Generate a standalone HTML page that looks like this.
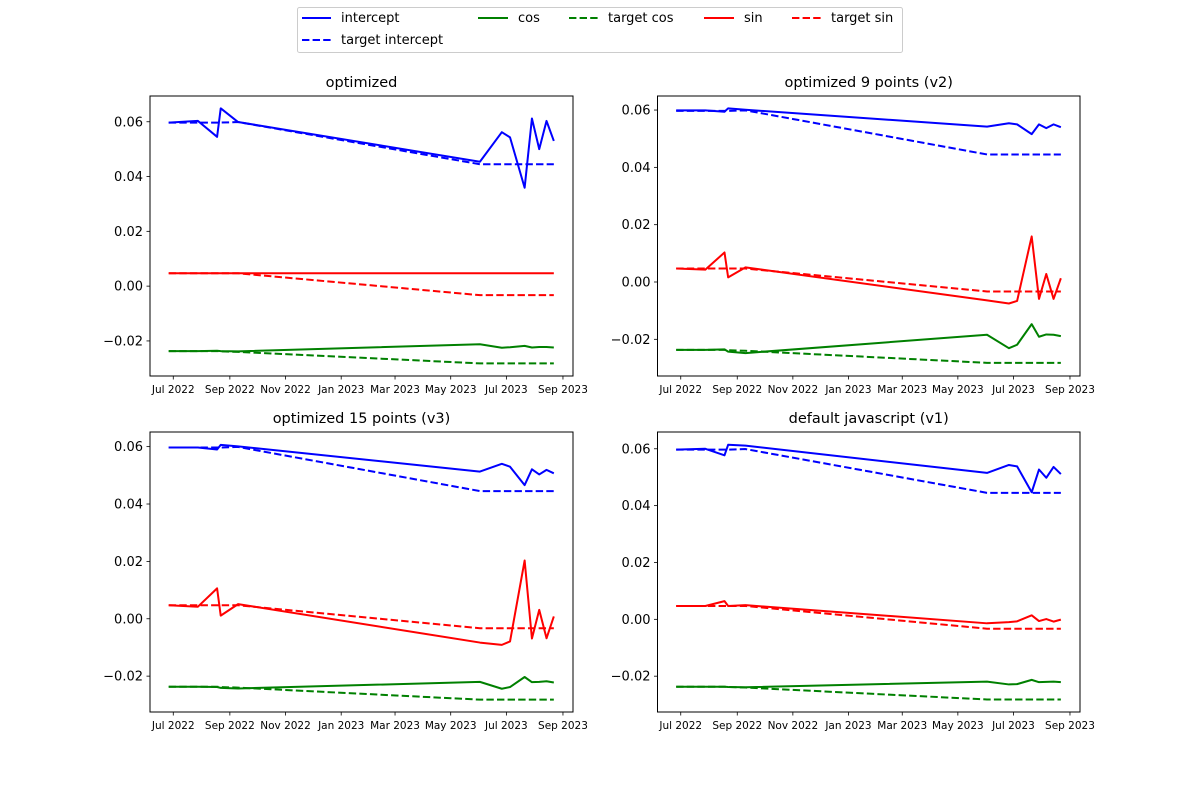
<!DOCTYPE html>
<html><head><meta charset="utf-8"><style>
body{margin:0;background:#fff;}
svg{display:block;font-family:"DejaVu Sans","Liberation Sans",sans-serif;}
</style></head><body>
<svg id="fig" width="1200" height="800" viewBox="0 0 1200 800">
<rect width="1200" height="800" fill="#fff"/>
<g>
<rect x="297.5" y="7.5" width="605" height="45" rx="2" fill="#fff" stroke="#ccc"/>
<line x1="302" y1="18" x2="331" y2="18" stroke="blue" stroke-width="2"/>
<text x="341" y="22" font-size="13">intercept</text>
<line x1="302" y1="40" x2="331" y2="40" stroke="blue" stroke-width="2" stroke-dasharray="7.4,3.2"/>
<text x="341" y="44" font-size="13">target intercept</text>
<line x1="478" y1="18" x2="508" y2="18" stroke="green" stroke-width="2"/>
<text x="518" y="22" font-size="13">cos</text>
<line x1="569" y1="18" x2="598" y2="18" stroke="green" stroke-width="2" stroke-dasharray="7.4,3.2"/>
<text x="608" y="22" font-size="13">target cos</text>
<line x1="704" y1="18" x2="734" y2="18" stroke="red" stroke-width="2"/>
<text x="744" y="22" font-size="13">sin</text>
<line x1="792" y1="18" x2="821" y2="18" stroke="red" stroke-width="2" stroke-dasharray="7.4,3.2"/>
<text x="831" y="22" font-size="13">target sin</text>
</g>
</svg>
<script>
const days = [-5, 27, 48, 52, 71, 336, 360, 369, 385, 393, 401, 409, 417];
const tickDays = [0, 62, 123, 184, 243, 304, 365, 427];
const tickLabels = ["Jul 2022","Sep 2022","Nov 2022","Jan 2023","Mar 2023","May 2023","Jul 2023","Sep 2023"];
const yTicks = [0.06, 0.04, 0.02, 0.00, -0.02];
const yTickLabels = ["0.06","0.04","0.02","0.00","\u22120.02"];
const titles = ["optimized","optimized 9 points (v2)","optimized 15 points (v3)","default javascript (v1)"];
const targetIntercept = [0.0597,0.0597,0.0597,0.0597,0.0599,0.0445,0.0445,0.0445,0.0445,0.0445,0.0445,0.0445,0.0445];
const targetSin = [0.0047,0.0047,0.0047,0.0047,0.0047,-0.0033,-0.0033,-0.0033,-0.0033,-0.0033,-0.0033,-0.0033,-0.0033];
const targetCos = [-0.0237,-0.0237,-0.0237,-0.0238,-0.0240,-0.0282,-0.0282,-0.0282,-0.0282,-0.0282,-0.0282,-0.0282,-0.0282];
const intercept1 = [0.0597,0.0603,0.0545,0.0649,0.0599,0.0454,0.0562,0.0543,0.0359,0.0612,0.0500,0.0603,0.0530];
const sin1 = [0.0047,0.0047,0.0047,0.0047,0.0047,0.0047,0.0047,0.0047,0.0047,0.0047,0.0047,0.0047,0.0047];
const cos1 = [-0.0237,-0.0237,-0.0236,-0.0237,-0.0238,-0.0212,-0.0225,-0.0223,-0.0218,-0.0224,-0.0222,-0.0222,-0.0224];
const intercept2 = [0.0599,0.0599,0.0594,0.0606,0.0601,0.0542,0.0554,0.0550,0.0516,0.0550,0.0537,0.0550,0.0540];
const sin2 = [0.0047,0.0043,0.0103,0.0016,0.0051,-0.0064,-0.0075,-0.0066,0.0159,-0.0059,0.0028,-0.0059,0.0013];
const cos2 = [-0.0237,-0.0237,-0.0235,-0.0243,-0.0248,-0.0184,-0.0231,-0.0219,-0.0147,-0.0191,-0.0183,-0.0184,-0.0189];
const intercept3 = [0.0597,0.0597,0.0590,0.0606,0.0601,0.0513,0.0540,0.0530,0.0466,0.0521,0.0503,0.0519,0.0507];
const sin3 = [0.0047,0.0042,0.0106,0.0011,0.0051,-0.0083,-0.0091,-0.0079,0.0203,-0.0069,0.0031,-0.0068,0.0008];
const cos3 = [-0.0237,-0.0237,-0.0238,-0.0241,-0.0243,-0.0220,-0.0244,-0.0238,-0.0203,-0.0221,-0.0220,-0.0218,-0.0222];
const intercept4 = [0.0597,0.0600,0.0577,0.0614,0.0611,0.0515,0.0543,0.0538,0.0447,0.0527,0.0498,0.0536,0.0511];
const sin4 = [0.0047,0.0047,0.0064,0.0047,0.0050,-0.0014,-0.0010,-0.0007,0.0014,-0.0006,0.0001,-0.0008,-0.0001];
const cos4 = [-0.0237,-0.0237,-0.0237,-0.0238,-0.0239,-0.0219,-0.0229,-0.0228,-0.0213,-0.0221,-0.0220,-0.0219,-0.0221];

const NS = "http://www.w3.org/2000/svg";
const svg = document.getElementById("fig");
const panels = [
 {x:150, y:96, w:423, h:280, ymin:-0.0328, ymax:0.0694, s:[intercept1,sin1,cos1]},
 {x:657.5, y:96, w:422.5, h:280, ymin:-0.0328, ymax:0.0649, s:[intercept2,sin2,cos2]},
 {x:150, y:432, w:423, h:280, ymin:-0.0325, ymax:0.0651, s:[intercept3,sin3,cos3]},
 {x:657.5, y:432, w:422.5, h:280, ymin:-0.0326, ymax:0.0659, s:[intercept4,sin4,cos4]}
];
const XMIN = -25.5, XMAX = 438;
function mk(tag, attrs){const e=document.createElementNS(NS,tag);for(const k in attrs)e.setAttribute(k,attrs[k]);return e;}
panels.forEach((p,i)=>{
  const g = mk("g",{});
  
  
  svg.appendChild(g);
  const sx = d => p.x + (d - XMIN) / (XMAX - XMIN) * p.w;
  const sy = v => p.y + (p.ymax - v) / (p.ymax - p.ymin) * p.h;
  const t = mk("text",{x:p.x+p.w/2, y:p.y-9, "font-size":"14.5", "text-anchor":"middle"});
  t.textContent = titles[i];
  
  
  g.appendChild(t);
  const series = [
    [targetIntercept,"blue",true,"target-intercept-line"],
    [targetSin,"red",true,"target-sin-line"],
    [targetCos,"green",true,"target-cos-line"],
    [p.s[0],"blue",false,"intercept-line"],
    [p.s[1],"red",false,"sin-line"],
    [p.s[2],"green",false,"cos-line"]
  ];
  series.forEach(([vals,col,dash,name])=>{
    const pts = vals.map((v,j)=>sx(days[j]).toFixed(2)+","+sy(v).toFixed(2)).join(" ");
    const pl = mk("polyline",{points:pts, fill:"none", stroke:col, "stroke-width":"2", "stroke-linejoin":"round"});
    if(dash) pl.setAttribute("stroke-dasharray","7.4,3.2");
    
    
    g.appendChild(pl);
  });
  const fr = mk("rect",{x:p.x, y:p.y, width:p.w, height:p.h, fill:"none", stroke:"#000", "stroke-width":"1"});
  
  
  g.appendChild(fr);
  tickDays.forEach((d,j)=>{
    const x = sx(d);
    const l = mk("line",{x1:x, y1:p.y+p.h, x2:x, y2:p.y+p.h+3.5, stroke:"#000", "stroke-width":"0.8"});
    
    
    g.appendChild(l);
    const tx = mk("text",{x:x, y:p.y+p.h+17, "font-size":"10.5", "text-anchor":"middle"});
    tx.textContent = tickLabels[j];
    
    
    g.appendChild(tx);
  });
  yTicks.forEach((v,j)=>{
    const y = sy(v);
    const l = mk("line",{x1:p.x-3.5, y1:y, x2:p.x, y2:y, stroke:"#000", "stroke-width":"0.8"});
    
    
    g.appendChild(l);
    const tx = mk("text",{x:p.x-7, y:y+4.5, "font-size":"13", "text-anchor":"end"});
    tx.textContent = yTickLabels[j];
    
    
    g.appendChild(tx);
  });
});
</script>
</body></html>
